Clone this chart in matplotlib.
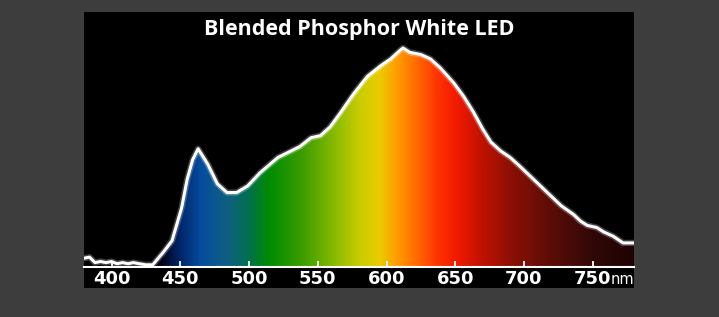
import matplotlib
matplotlib.use("Agg")
import matplotlib.pyplot as plt
import matplotlib.patches as mp
import numpy as np

# spectrum (relative intensity, % of peak)
wavelength = [380, 384, 388, 392, 396, 400, 404, 408, 412, 416, 420, 425, 430,
              438, 444, 451, 455, 459, 463, 466, 470, 477, 484, 491, 499, 508,
              521, 537, 545, 552, 559, 566, 576, 586, 596, 603, 610, 612, 617,
              625, 632, 639, 649, 656, 663, 670, 676, 683, 690, 697, 707, 717,
              727, 736, 741, 746, 753, 758, 765, 772, 780]
intensity = [4, 4.5, 2, 2.5, 2, 2.5, 1.5, 2, 1.5, 2, 1.5, 1, 1,
             7, 12, 27, 40, 49, 54, 51, 47, 38, 34, 34, 37, 43,
             50, 55, 59, 60, 64, 70, 79, 87, 92, 95, 99, 100, 98,
             97, 95, 91, 84, 78, 71, 63, 57, 53, 50, 46, 40, 34,
             28, 24, 21, 19, 18, 16, 14, 11, 11]
tick_nm = [400, 450, 500, 550, 600, 650, 700, 750]
title = "Blended Phosphor White LED"

# colour stops for the rainbow fill
stop_nm = [380, 435, 450, 465, 485, 500, 515, 540, 560, 580, 595, 607, 622,
           637, 652, 670, 690, 720, 750, 780]
stop_rgb = [(0, 0, 0), (0, 0, 0.06), (0, 0.15, 0.42), (0.02, 0.3, 0.62),
            (0.06, 0.38, 0.5), (0.0, 0.44, 0.3), (0.0, 0.55, 0.0),
            (0.25, 0.62, 0.0), (0.5, 0.72, 0.0), (0.78, 0.8, 0.0),
            (0.92, 0.8, 0.0), (1.0, 0.62, 0.0), (1.0, 0.42, 0.0),
            (1.0, 0.2, 0.0), (0.94, 0.1, 0.0), (0.75, 0.07, 0.0),
            (0.55, 0.06, 0.02), (0.36, 0.05, 0.03), (0.19, 0.03, 0.03),
            (0.12, 0.01, 0.01)]

W, H = 719, 317
fig = plt.figure(figsize=(W / 100, H / 100), dpi=100)
fig.patch.set_facecolor("#3d3d3d")

ax = fig.add_axes([84 / W, (H - 267) / H, 550 / W, 255 / H])
ax.set_facecolor("black")
ymax = 255 / 219 * 100
ax.set_xlim(380, 780)
ax.set_ylim(0, ymax)

# black band under the axis for the labels
fig.patches.append(mp.Rectangle((84 / W, (H - 288) / H), 550 / W, 22 / H,
                                transform=fig.transFigure, facecolor="black",
                                edgecolor="none", zorder=-1))

grid = np.linspace(380, 780, 800)
rgb = np.array(stop_rgb)
img = np.stack([np.interp(grid, stop_nm, rgb[:, i]) for i in range(3)], axis=-1)
img = np.repeat(img[np.newaxis, :, :], 2, axis=0)

poly = ax.fill_between(wavelength, intensity, 0, facecolor="none", edgecolor="none")
im = ax.imshow(img, extent=[380, 780, 0, ymax], aspect="auto", origin="lower",
               interpolation="bilinear", zorder=1)
im.set_clip_path(poly.get_paths()[0], transform=ax.transData)

ax.plot(wavelength, intensity, color="white", lw=4.5, alpha=0.25, zorder=2,
        solid_joinstyle="round")
ax.plot(wavelength, intensity, color="white", lw=2.2, zorder=3,
        solid_joinstyle="round")

for s in ["left", "right", "top"]:
    ax.spines[s].set_visible(False)
ax.spines["bottom"].set_color("white")
ax.spines["bottom"].set_linewidth(1.5)
ax.spines["bottom"].set_zorder(4)
ax.set_yticks([])
ax.set_xticks(tick_nm)
ax.tick_params(axis="x", direction="in", length=4.5, width=1.3, color="white",
               labelcolor="white", labelsize=13, pad=2)
for lab in ax.get_xticklabels():
    lab.set_fontweight("bold")

ax.annotate("nm", xy=(1, 0), xycoords="axes fraction", xytext=(0, -3.5),
            textcoords="offset points", ha="right", va="top", color="white",
            fontsize=10.5)

fig.text(359 / W, (H - 29) / H, title, color="white", fontsize=15.5,
         fontweight="bold", family="Open Sans", ha="center", va="center")

fig.savefig("out.png", dpi=100, facecolor=fig.get_facecolor())
